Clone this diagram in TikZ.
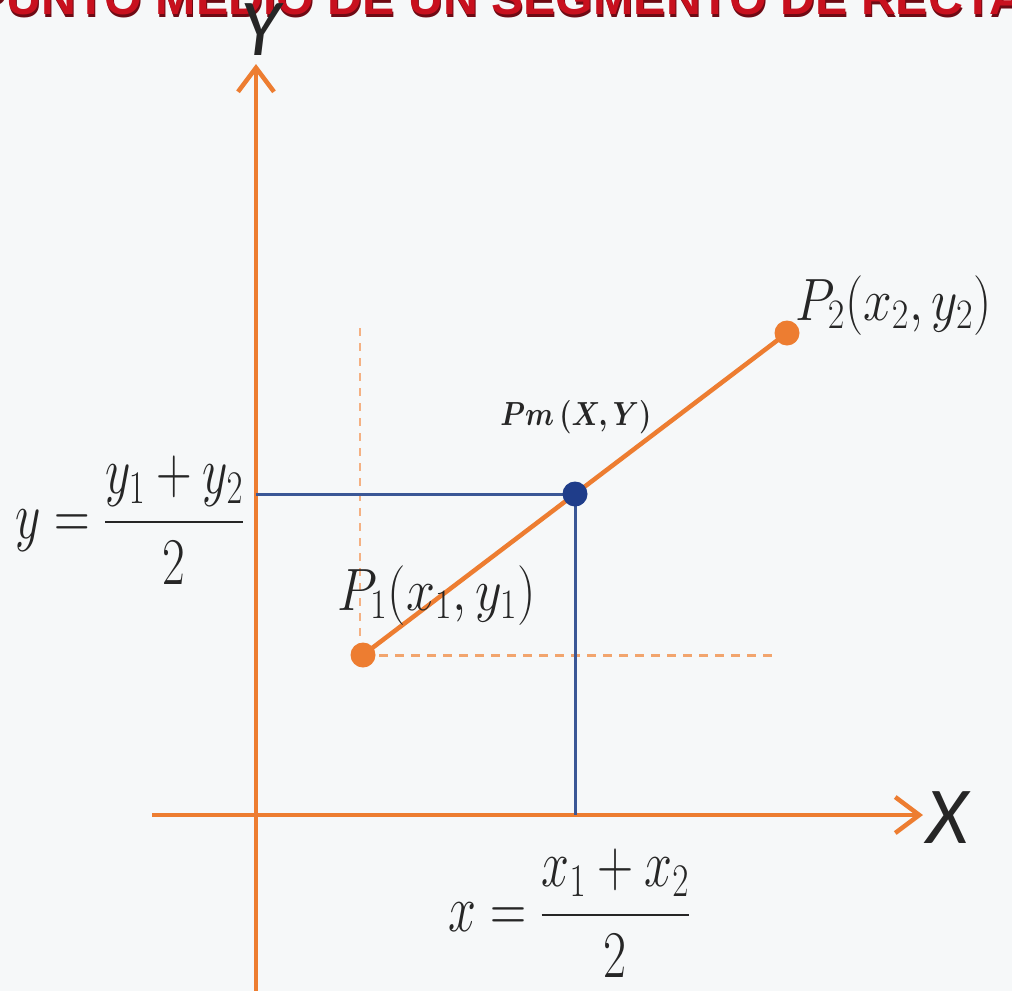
\RequirePackage{fix-cm}
\documentclass[tikz,border=0pt]{standalone}
\usepackage{amsmath}
\usepackage{fontspec}
\usepackage{graphicx}
\usetikzlibrary{arrows.meta}
\newfontfamily\titlefont{Liberation Sans}
\newfontfamily\axfont{Carlito}
\definecolor{bg}{HTML}{F6F8F9}
\definecolor{org}{HTML}{ED7D31}
\definecolor{lorg}{HTML}{F4B183}
\definecolor{morg}{HTML}{F2A56E}
\definecolor{navy}{HTML}{3A5796}
\definecolor{navydot}{HTML}{1F3D8A}
\definecolor{ttl}{HTML}{C8101E}
\definecolor{ttlsh}{HTML}{6E0A14}
\tikzset{
  axis/.style={draw=org, line width=4.5*0.02cm, -{Straight Barb[length=24*0.02cm, width=36*0.02cm, line width=4.5*0.02cm]}},
  seg/.style={draw=org, line width=4.5*0.02cm},
  guide/.style={draw=navy, line width=3*0.02cm},
  dashv/.style={draw=lorg, line width=2*0.02cm, dash pattern=on 8*0.02cm off 7*0.02cm},
  dashh/.style={draw=morg, line width=3*0.02cm, dash pattern=on 9*0.02cm off 7*0.02cm},
  dot/.style={circle, inner sep=0pt, minimum size=25*0.02cm},
  plbl/.style={inner sep=0pt, font=\fontsize{34}{36}\selectfont, text=black!85},
  frlbl/.style={inner sep=0pt, font=\fontsize{38}{40}\selectfont, text=black!85},
  mlbl/.style={inner sep=0pt, font=\fontsize{19}{21}\selectfont\boldmath, text=black!85},
  axlbl/.style={inner sep=0pt, font=\axfont\itshape\fontsize{46}{48}\selectfont, text=black!85},
  ttlstyle/.style={inner sep=0pt, font=\titlefont\bfseries\fontsize{27.5}{29}\selectfont},
}
\begin{document}
\begin{tikzpicture}[x=0.02cm, y=-0.02cm]
\useasboundingbox (0,0) rectangle (1012,991);
\clip (0,0) rectangle (1012,991);
\fill[bg] (0,0) rectangle (1012,991);

% title (cut off at the top)
\node[ttlstyle, anchor=base west, text=ttlsh] (titlesh) at (-25,17) {PUNTO MEDIO DE UN SEGMENTO DE RECTA};
\node[ttlstyle, anchor=base west, text=ttl] (title) at (-26,14) {PUNTO MEDIO DE UN SEGMENTO DE RECTA};

% axes
\coordinate (yb) at (256,1000);
\coordinate (yt) at (256,64);
\coordinate (xl) at (152,815);
\coordinate (xr) at (923,815);
\draw[axis] (yb) -- (yt);
\draw[axis] (xl) -- (xr);
\node[axlbl, anchor=west] (Xl) at (926,818) {X};
\node[axlbl, anchor=south] (Yl) at (260,56) {Y};

% points
\coordinate (p1) at (363,655);
\coordinate (p2) at (787,333);
\coordinate (pm) at (575,494);
\coordinate (dvtop) at (360,328);
\coordinate (dhend) at (778,655);

\draw[dashv] (dvtop) -- (dvtop |- p1);
\draw[dashh] (p1) -- (dhend);
\draw[guide] (pm) -- (pm -| yt);
\draw[guide] (pm) -- (pm |- xl);
\draw[seg] (p1) -- (p2);

\node[dot, fill=org] (P1) at (p1) {};
\node[dot, fill=org] (P2) at (p2) {};
\node[dot, fill=navydot] (Pm) at (pm) {};

% labels
\node[plbl, anchor=base west] (L1) at (337,610) {\scalebox{0.87}[1]{$P_1(x_1,y_1)$}};
\node[plbl, anchor=base west] (L2) at (795,320) {\scalebox{0.86}[1]{$P_2(x_2,y_2)$}};
\node[mlbl, anchor=base west] (Lm) at (500,425) {\scalebox{0.84}[1]{$Pm\,(X,Y)$}};
\node[frlbl, anchor=east] (Fy) at (245,520) {\scalebox{0.74}[1]{$\displaystyle y=\frac{y_1+y_2}{2}$}};
\node[frlbl, anchor=west] (Fx) at (448,913) {\scalebox{0.75}[1]{$\displaystyle x=\frac{x_1+x_2}{2}$}};
\end{tikzpicture}
\end{document}
